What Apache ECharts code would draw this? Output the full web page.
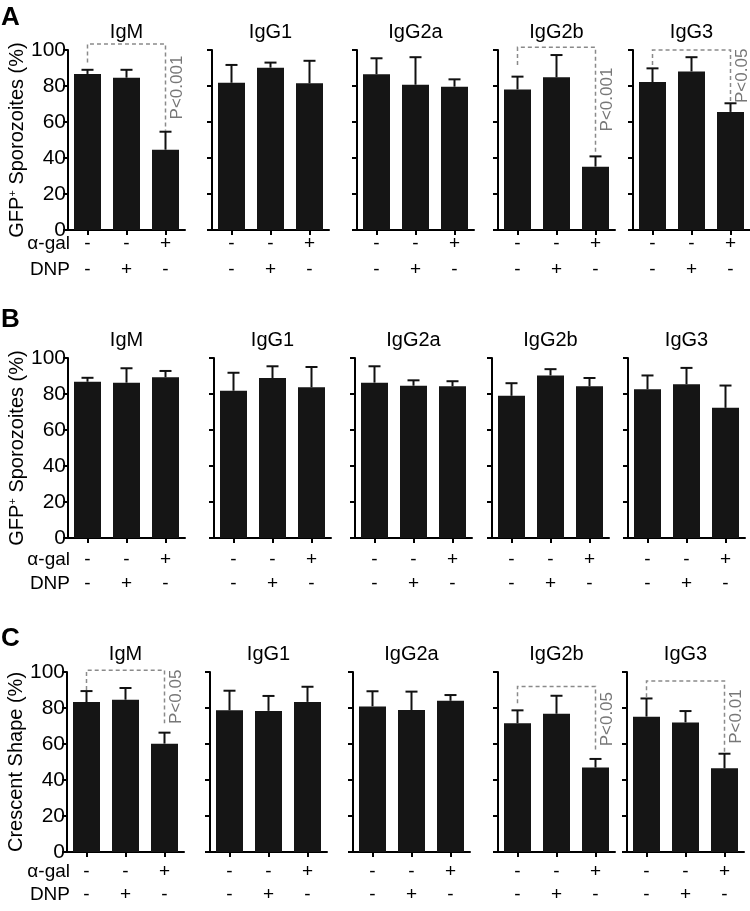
<!DOCTYPE html>
<html>
<head>
<meta charset="utf-8">
<script src="https://cdn.jsdelivr.net/npm/echarts@6/dist/echarts.min.js"></script>
<style>
  html, body { margin: 0; padding: 0; background: #fff; }
  #chart { width: 750px; height: 911px; }
</style>
</head>
<body>
<div id="chart"></div>
<script>
const isotypes = ['IgM', 'IgG1', 'IgG2a', 'IgG2b', 'IgG3'];
const conditions = ['none', 'DNP', 'α-gal'];
const alphaGalSigns = ['-', '-', '+'];
const dnpSigns = ['-', '+', '-'];

// A: GFP+ sporozoites (%), mean and top of error bar, per isotype
const gfpMeanA = [[86.7, 84.6, 44.6], [81.8, 90.2, 81.5], [86.5, 80.7, 79.6], [78.1, 84.8, 35.2], [82.2, 88.1, 65.6]];
const gfpErrA = [[89.0, 89.0, 54.6], [91.7, 93.0, 94.0], [95.4, 96.0, 83.7], [85.2, 97.2, 40.9], [89.8, 96.0, 70.4]];

// B: GFP+ sporozoites (%)
const gfpMeanB = [[86.8, 86.3, 89.3], [81.8, 88.9, 83.7], [86.3, 84.6, 84.3], [79.0, 90.3, 84.3], [82.6, 85.4, 72.3]];
const gfpErrB = [[89.0, 94.3, 92.8], [91.8, 95.4, 95.0], [95.4, 87.6, 87.1], [86.0, 93.8, 88.9], [90.3, 94.5, 84.7]];

// C: crescent shape (%)
const crescentMean = [[83.3, 84.6, 60.2], [78.7, 78.4, 83.4], [80.9, 78.9, 84.0], [71.5, 76.8, 46.9], [75.2, 72.0, 46.5]];
const crescentErr = [[89.4, 91.1, 66.3], [89.6, 86.7, 91.8], [89.3, 89.1, 87.2], [78.7, 86.8, 51.7], [85.3, 78.3, 54.6]];

// significance brackets: [isotype index, bracket top, left leg end, right leg end]
const sigA = [[0, 103.3, 93.0, 55.0], [3, 101.5, 91.7, 43.5], [4, 100.0, 91.7, 71.3]];
const sigLabelsA = ['P<0.001', 'P<0.001', 'P<0.05'];
const sigC = [[0, 101.0, 90.0, 71.5], [3, 92.0, 82.6, 55.6], [4, 95.0, 86.0, 55.5]];
const sigLabelsC = ['P<0.05', 'P<0.05', 'P<0.01'];

const yTicks = [0, 20, 40, 60, 80, 100];

const font = '"Liberation Sans", Arial, Helvetica, sans-serif';
const gfpName = '{a|GFP}{s|+}{a| Sporozoites (%)}';

const rows = [
  { letter: 'A', letterY: 18, top: 50, lefts: [68, 212, 357, 498, 633], mean: gfpMeanA, err: gfpErrA,
    sig: sigA, sigLabels: sigLabelsA, yName: gfpName, margin: 1, lineHeight: 26 },
  { letter: 'B', letterY: 320, top: 358, lefts: [68, 214, 355, 492, 628], mean: gfpMeanB, err: gfpErrB,
    sig: [], sigLabels: [], yName: gfpName, margin: 10, lineHeight: 24 },
  { letter: 'C', letterY: 639, top: 672, lefts: [67, 210, 353, 498, 627], mean: crescentMean, err: crescentErr,
    sig: sigC, sigLabels: sigLabelsC, yName: '{a|Crescent Shape (%)}', margin: 8, lineHeight: 23 }
];

const plotW = 117;
const plotH = 180;

const grids = [];
const xAxes = [];
const yAxes = [];
const series = [];
const graphics = [];

const axisLine = { show: true, lineStyle: { color: '#000', width: 2 } };
const axisTick = { show: true, length: 5, lineStyle: { color: '#000', width: 2 } };

const renderError = (params, api) => {
  const base = api.coord([api.value(0), api.value(1)]);
  const tip = api.coord([api.value(0), api.value(2)]);
  const cap = 6;
  return {
    type: 'group',
    children: [
      { type: 'line', shape: { x1: base[0], y1: base[1], x2: tip[0], y2: tip[1] }, style: { stroke: '#111', lineWidth: 2 } },
      { type: 'line', shape: { x1: tip[0] - cap, y1: tip[1], x2: tip[0] + cap, y2: tip[1] }, style: { stroke: '#111', lineWidth: 2 } }
    ]
  };
};

const makeSigRender = (label) => (params, api) => {
  const top = api.value(2);
  const pTopL = api.coord([0, top]);
  const pTopR = api.coord([2, top]);
  const pL = api.coord([0, api.value(3)]);
  const pR = api.coord([2, api.value(4)]);
  const dashStyle = { stroke: '#8a8a8a', lineWidth: 1.5, lineDash: [4, 3] };
  return {
    type: 'group',
    children: [
      { type: 'polyline', shape: { points: [pL, pTopL, pTopR, pR] }, style: Object.assign({ fill: null }, dashStyle) },
      {
        type: 'text', x: pR[0] + 12, y: (pTopR[1] + pR[1]) / 2, rotation: Math.PI / 2,
        style: { text: label, fill: '#777', font: '17px ' + font, textAlign: 'center', textVerticalAlign: 'middle' }
      }
    ]
  };
};

rows.forEach((row, r) => {
  graphics.push({
    type: 'text', left: 1, top: row.letterY - 13,
    style: { text: row.letter, fill: '#000', font: 'bold 26px ' + font }
  });
  graphics.push({
    type: 'text', x: 70, y: row.top + plotH + row.margin + row.lineHeight / 2,
    style: { text: 'α-gal', fill: '#000', font: '19px ' + font, textAlign: 'right', textVerticalAlign: 'middle' }
  });
  graphics.push({
    type: 'text', x: 70, y: row.top + plotH + row.margin + row.lineHeight * 1.5,
    style: { text: 'DNP', fill: '#000', font: '19px ' + font, textAlign: 'right', textVerticalAlign: 'middle' }
  });

  isotypes.forEach((iso, j) => {
    const k = grids.length;
    const left = row.lefts[j];
    grids.push({ left: left, top: row.top, width: plotW, height: plotH, outerBoundsMode: 'none' });

    graphics.push({
      type: 'text', x: left + plotW / 2, y: row.top - 18,
      style: { text: iso, fill: '#000', font: '20px ' + font, textAlign: 'center', textVerticalAlign: 'middle' }
    });

    xAxes.push({
      type: 'category', gridIndex: k, data: conditions,
      axisLine: axisLine,
      axisTick: Object.assign({ alignWithLabel: true }, axisTick),
      axisLabel: {
        interval: 0, margin: row.margin, lineHeight: row.lineHeight,
        fontSize: 19, fontFamily: font, color: '#000',
        formatter: (v, i) => alphaGalSigns[i] + '\n' + dnpSigns[i]
      },
      splitLine: { show: false }
    });

    yAxes.push({
      type: 'value', gridIndex: k, min: yTicks[0], max: yTicks[yTicks.length - 1], interval: 20,
      axisLine: axisLine,
      axisTick: axisTick,
      splitLine: { show: false },
      axisLabel: { show: j === 0, fontSize: 21, fontFamily: font, color: '#000', margin: 2 },
      name: j === 0 ? row.yName : '',
      nameLocation: 'middle',
      nameGap: 40,
      nameRotate: 90,
      nameTextStyle: {
        color: '#000', fontFamily: font,
        rich: {
          a: { fontSize: 20, fontFamily: font, color: '#000' },
          s: { fontSize: 11, fontFamily: font, color: '#000', verticalAlign: 'top', padding: [0, 0, 8, 0] }
        }
      }
    });

    series.push({
      type: 'bar', xAxisIndex: k, yAxisIndex: k,
      data: row.mean[j], barWidth: 27,
      itemStyle: { color: '#151515' },
      silent: true
    });

    series.push({
      type: 'custom', xAxisIndex: k, yAxisIndex: k, z: 3,
      data: row.mean[j].map((m, i) => [i, m, row.err[j][i]]),
      renderItem: renderError,
      silent: true
    });

    row.sig.forEach((s, si) => {
      if (s[0] !== j) return;
      series.push({
        type: 'custom', xAxisIndex: k, yAxisIndex: k, z: 4,
        encode: { x: 0, y: 2 },
        data: [[0, 2, s[1], s[2], s[3]]],
        renderItem: makeSigRender(row.sigLabels[si]),
        silent: true
      });
    });
  });
});

const chart = echarts.init(document.getElementById('chart'));
chart.setOption({
  animation: false,
  backgroundColor: '#fff',
  textStyle: { fontFamily: font },
  grid: grids,
  xAxis: xAxes,
  yAxis: yAxes,
  series: series,
  graphic: graphics
});
window.addEventListener('resize', () => chart.resize());
</script>
</body>
</html>
